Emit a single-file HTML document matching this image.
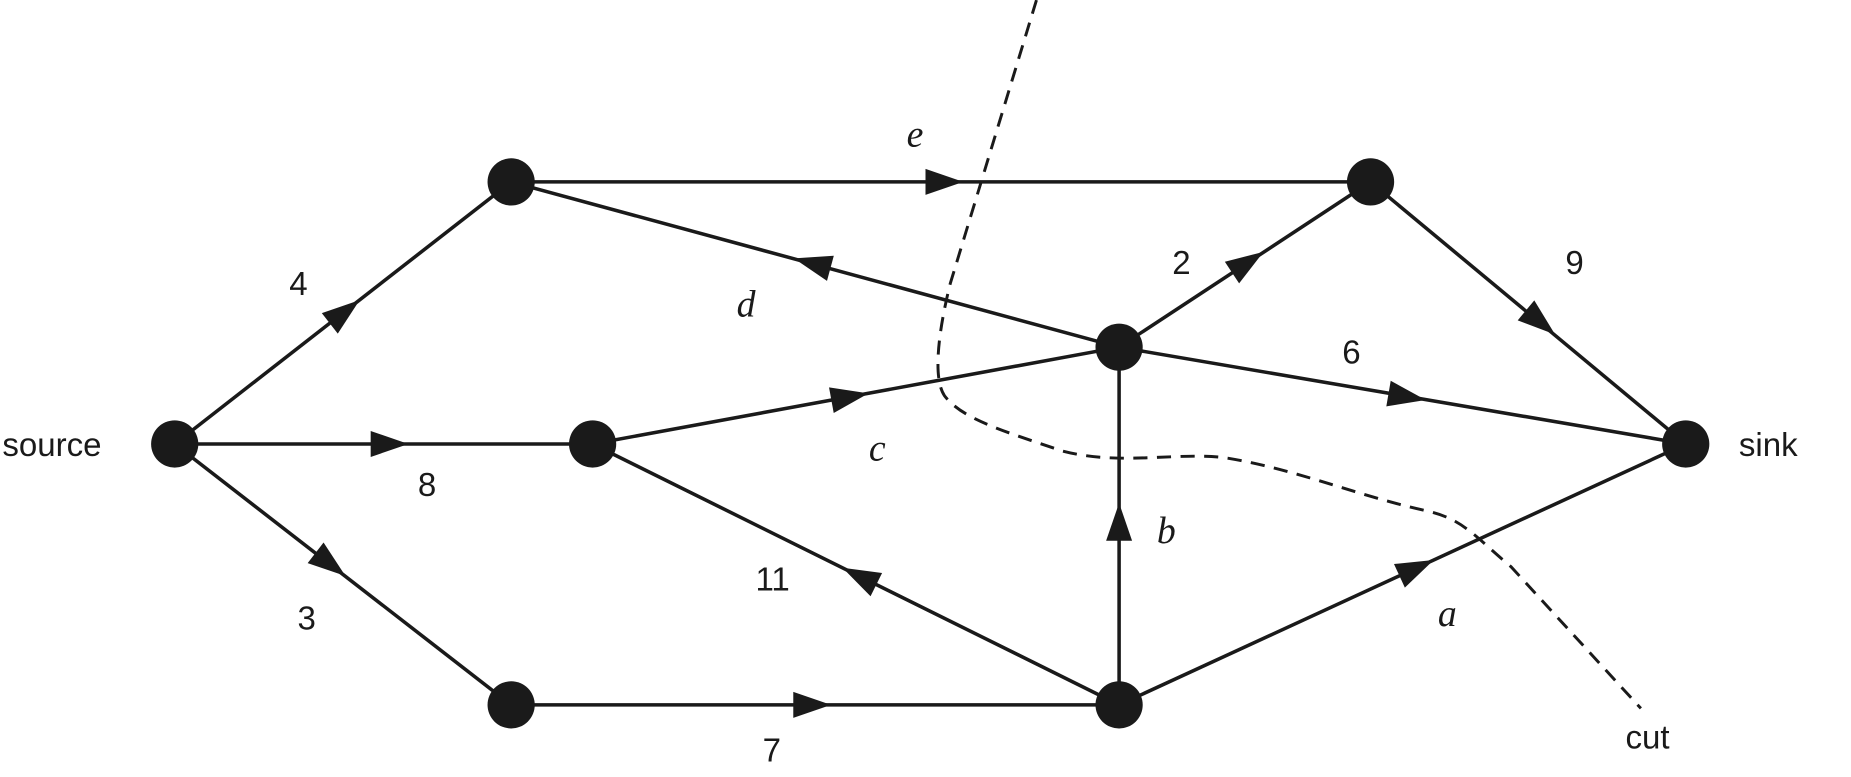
<!DOCTYPE html>
<html><head><meta charset="utf-8"><style>html,body{margin:0;padding:0;background:#fff;}svg{display:block}</style></head>
<body>
<svg width="1851" height="777" viewBox="0 0 1568 658" xmlns="http://www.w3.org/2000/svg">
<g stroke="#1a1a1a" stroke-width="3" fill="none">
<line x1="148" y1="376" x2="433" y2="154"/>
<line x1="148" y1="376" x2="502" y2="376"/>
<line x1="148" y1="376" x2="433" y2="597"/>
<line x1="433" y1="154" x2="1161" y2="154"/>
<line x1="948" y1="294" x2="433" y2="154"/>
<line x1="502" y1="376" x2="948" y2="294"/>
<line x1="948" y1="294" x2="1161" y2="154"/>
<line x1="1161" y1="154" x2="1428" y2="376"/>
<line x1="948" y1="294" x2="1428" y2="376"/>
<line x1="948" y1="597" x2="502" y2="376"/>
<line x1="433" y1="597" x2="948" y2="597"/>
<line x1="948" y1="597" x2="948" y2="294"/>
<line x1="948" y1="597" x2="1428" y2="376"/>
<path d="M878 0 L805 240 C795 280,790 320,800 335 C815 355,850 365,900 382 C950 395,1000 382,1040 388 C1100 398,1150 420,1210 433 C1240 440,1250 455,1280 480 L1390 600" stroke-dasharray="12,8" stroke-width="2.5"/>
</g>
<g fill="#1a1a1a">
<polygon points="-16,-11 16,0 -16,11" transform="translate(292,264) rotate(-37.9)"/>
<polygon points="-16,-11 16,0 -16,11" transform="translate(330,376)"/>
<polygon points="-16,-11 16,0 -16,11" transform="translate(280,478) rotate(37.8)"/>
<polygon points="-16,-11 16,0 -16,11" transform="translate(800,154)"/>
<polygon points="-16,-11 16,0 -16,11" transform="translate(688,223) rotate(195.2)"/>
<polygon points="-16,-11 16,0 -16,11" transform="translate(720,336) rotate(-10.4)"/>
<polygon points="-16,-11 16,0 -16,11" transform="translate(1057,222) rotate(-33.3)"/>
<polygon points="-16,-11 16,0 -16,11" transform="translate(1305,273) rotate(39.7)"/>
<polygon points="-16,-11 16,0 -16,11" transform="translate(1192,336) rotate(9.7)"/>
<polygon points="-16,-11 16,0 -16,11" transform="translate(728,488) rotate(206.4)"/>
<polygon points="-16,-11 16,0 -16,11" transform="translate(688,597)"/>
<polygon points="-16,-11 16,0 -16,11" transform="translate(948,442) rotate(-90)"/>
<polygon points="-16,-11 16,0 -16,11" transform="translate(1200,481) rotate(-24.7)"/>
<circle cx="148" cy="376" r="20"/><circle cx="433" cy="154" r="20"/>
<circle cx="502" cy="376" r="20"/><circle cx="433" cy="597" r="20"/>
<circle cx="948" cy="294" r="20"/><circle cx="1161" cy="154" r="20"/>
<circle cx="948" cy="597" r="20"/><circle cx="1428" cy="376" r="20"/>
</g>
<g font-family="Liberation Sans, sans-serif" font-size="28" fill="#1a1a1a">
<text x="2" y="386">source</text>
<text x="1473" y="386">sink</text>
<text x="1377" y="634">cut</text>
<text x="245" y="250">4</text>
<text x="354" y="420">8</text>
<text x="252" y="533">3</text>
<text x="993" y="232">2</text>
<text x="1326" y="232">9</text>
<text x="1137" y="308">6</text>
<text x="640" y="500">11</text>
<text x="646" y="645">7</text>
</g>
<g font-family="Liberation Serif, serif" font-style="italic" font-size="32" fill="#1a1a1a">
<text x="768" y="124">e</text>
<text x="624" y="268">d</text>
<text x="736" y="390">c</text>
<text x="980" y="460">b</text>
<text x="1218" y="530">a</text>
</g>
</svg>
</body></html>
